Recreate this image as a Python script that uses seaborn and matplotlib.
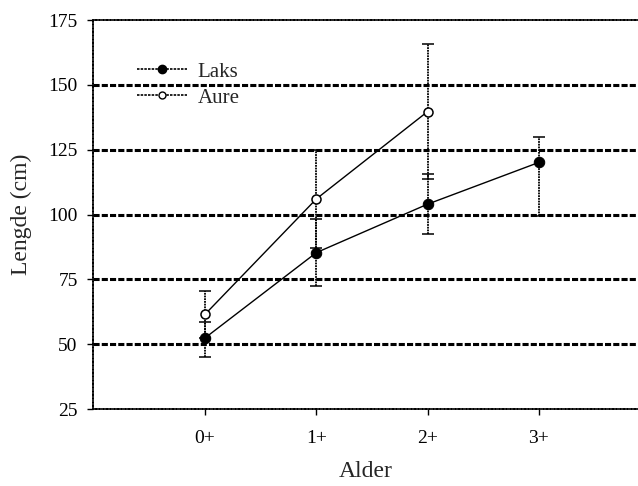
import matplotlib
matplotlib.use("Agg")
import matplotlib.pyplot as plt
import seaborn as sns
import numpy as np
import pandas as pd
from matplotlib.lines import Line2D

ages = ["0+", "1+", "2+", "3+"]
laks = [52.4, 85.3, 104.0, 120.1]
laks_lo = [7.4, 13.0, 11.7, 20.6]
laks_hi = [6.0, 13.0, 11.7, 9.9]
aure_ages = ["0+", "1+", "2+"]
aure = [61.5, 106.0, 139.7]
aure_err = [9.1, 19.0, 26.0]
yticks = [25, 50, 75, 100, 125, 150, 175]

sns.set_style("ticks")
plt.rcParams['font.family'] = ['Liberation Serif', 'DejaVu Serif']

fig = plt.figure(figsize=(6.38, 4.86), dpi=100)
ax = fig.add_axes([0.1458, 0.1584, 0.8542, 0.8004])

pos_l = [ages.index(a) for a in ages]
pos_a = [ages.index(a) for a in aure_ages]

# gridlines
for yv in yticks[1:-1]:
    ax.axhline(yv, color="black", lw=2.2, ls=(0, (2.0, 0.7)), zorder=1)

# error bars
eb1 = ax.errorbar(pos_l, laks, yerr=[laks_lo, laks_hi], fmt="none", ecolor="black",
                  elinewidth=1.3, capsize=4, capthick=1.1, zorder=2)
eb1[2][0].set_linestyle((0, (1.0, 0.5)))
eb2 = ax.errorbar(pos_a, aure, yerr=aure_err, fmt="none", ecolor="black",
                  elinewidth=1.3, capsize=4, capthick=1.1, zorder=2)
eb2[2][0].set_linestyle((0, (1.0, 0.5)))

df_l = pd.DataFrame({"x": pos_l, "y": laks})
df_a = pd.DataFrame({"x": pos_a, "y": aure})
sns.lineplot(data=df_l, x="x", y="y", ax=ax, color="black", lw=1.0, marker="o",
             markersize=7.5, markerfacecolor="black", markeredgecolor="black", zorder=4)
sns.lineplot(data=df_a, x="x", y="y", ax=ax, color="black", lw=1.0, marker="o",
             markersize=6.5, markerfacecolor="white", markeredgecolor="black",
             markeredgewidth=1.1, zorder=4)

ax.set_xlim(-1.006, 3.89)
ax.set_ylim(25, 175)
ax.set_yticks(yticks)
ax.set_xticks(range(len(ages)))
ax.set_xticklabels(ages)
ax.tick_params(axis="both", labelsize=14, direction="out", length=4, width=1, color="black",
               labelcolor="black")
ax.tick_params(axis="x", pad=11)
ax.tick_params(axis="y", pad=7)
for side in ["left", "bottom", "top"]:
    ax.spines[side].set_visible(True)
    ax.spines[side].set_linestyle((0, (1.5, 0.7)))
    ax.spines[side].set_linewidth(1.2)
    ax.spines[side].set_color("black")
ax.spines["right"].set_visible(False)

ax.set_xlabel("Alder", fontsize=17, labelpad=10)
ax.set_ylabel("Lengde (cm)", fontsize=17, labelpad=12)

handles = [
    Line2D([], [], color="black", lw=1.2, ls=(0, (1.5, 0.7)), marker="o", markersize=6,
           markerfacecolor="black", markeredgecolor="black"),
    Line2D([], [], color="black", lw=1.2, ls=(0, (1.5, 0.7)), marker="o", markersize=5,
           markerfacecolor="white", markeredgecolor="black"),
]
ax.legend(handles, ["Laks", "Aure"], loc="upper left", bbox_to_anchor=(0.047, 0.94),
          frameon=False, fontsize=15, handlelength=2.4, handletextpad=0.5,
          labelspacing=0.3)

fig.savefig("out.png", dpi=100)
